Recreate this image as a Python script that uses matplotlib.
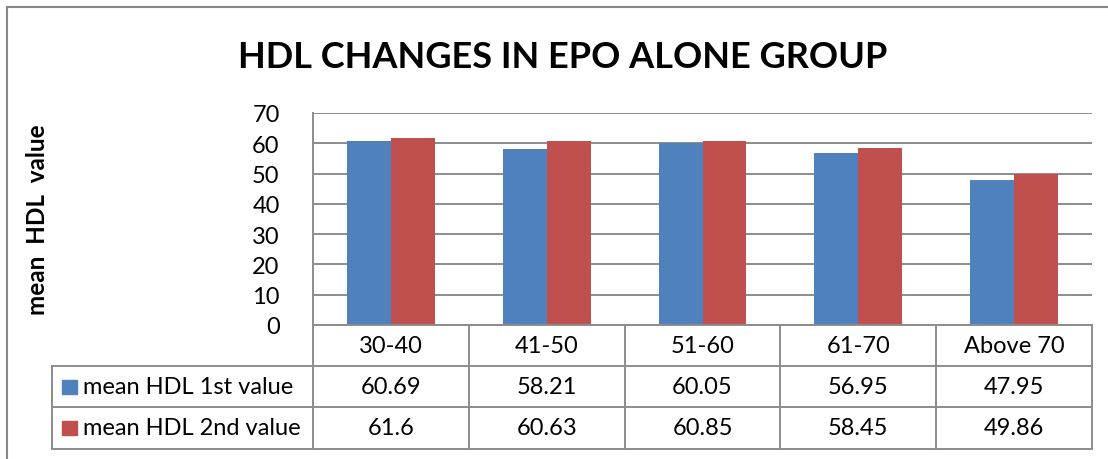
import matplotlib
matplotlib.use("Agg")
import matplotlib.pyplot as plt
import numpy as np
from matplotlib.lines import Line2D
from matplotlib.patches import Rectangle

plt.rcParams['font.family'] = ['Lato', 'DejaVu Sans']

# Data
categories = ["30-40", "41-50", "51-60", "61-70", "Above 70"]
first_values = [60.69, 58.21, 60.05, 56.95, 47.95]
second_values = [61.6, 60.63, 60.85, 58.45, 49.86]
series_names = ["mean HDL 1st value", "mean HDL 2nd value"]
first_labels = ["60.69", "58.21", "60.05", "56.95", "47.95"]
second_labels = ["61.6", "60.63", "60.85", "58.45", "49.86"]

blue = "#4F81BD"
red = "#C0504D"
grid_grey = "#8C8C8C"
fs = 17

W, H = 1108, 460
fig = plt.figure(figsize=(W / 100, H / 100), dpi=100)

def fx(px):
    return px / W

def fy(py):
    return 1 - py / H

# plot area in pixels
left, right, top, bottom = 313, 1092, 114, 326
ax = fig.add_axes([fx(left), fy(bottom), fx(right - left), (bottom - top) / H])

x = np.arange(len(categories))
bw = 0.282
ax.bar(x - bw / 2, first_values, bw, color=blue, zorder=3)
ax.bar(x + bw / 2, second_values, bw, color=red, zorder=3)

ax.set_xlim(-0.5, len(categories) - 0.5)
ax.set_ylim(0, 70)
ax.set_yticks(range(0, 71, 10))
ax.tick_params(axis='y', length=0, labelsize=fs, pad=24)
ax.tick_params(axis='x', length=0, labelbottom=False)
ax.yaxis.grid(True, color=grid_grey, linewidth=1.4)
for s in ["top", "right", "bottom"]:
    ax.spines[s].set_visible(False)
ax.spines["left"].set_color(grid_grey)
ax.spines["left"].set_linewidth(1.4)

# data table below the plot
row_y = [326, 367, 408, 450]
legend_left = 52
lw = 1.4
fig.add_artist(Line2D([fx(left), fx(right)], [fy(row_y[0])] * 2, color=grid_grey, lw=lw))
for yy in row_y[1:]:
    fig.add_artist(Line2D([fx(legend_left), fx(right)], [fy(yy)] * 2, color=grid_grey, lw=lw))
fig.add_artist(Line2D([fx(legend_left)] * 2, [fy(row_y[1]), fy(row_y[3])], color=grid_grey, lw=lw))

col_w = (right - left) / len(categories)
for i in range(len(categories) + 1):
    xx = left + i * col_w
    fig.add_artist(Line2D([fx(xx)] * 2, [fy(row_y[0]), fy(row_y[3])], color=grid_grey, lw=lw))

for i, cat in enumerate(categories):
    cx = fx(left + (i + 0.5) * col_w)
    fig.text(cx, fy(347), cat, ha='center', va='center', fontsize=fs)
    fig.text(cx, fy(388), first_labels[i], ha='center', va='center', fontsize=fs)
    fig.text(cx, fy(429), second_labels[i], ha='center', va='center', fontsize=fs)

for name, col, yc in [(series_names[0], blue, 388), (series_names[1], red, 429)]:
    fig.add_artist(Rectangle((fx(62), fy(yc + 7)), fx(15), 14 / H, color=col))
    fig.text(fx(83), fy(yc), name, ha='left', va='center', fontsize=fs)

# title and axis label
fig.text(fx(563), fy(57), "HDL CHANGES IN EPO ALONE GROUP", ha='center', va='center',
         fontsize=26, fontweight='bold')
fig.text(fx(38), fy(220), "mean  HDL  value", ha='center', va='center', rotation=90,
         fontsize=17.5, fontweight='bold')

# chart area border (cropped at right and bottom)
fig.add_artist(Line2D([fx(7), fx(7)], [fy(8), 0], color="#888888", lw=1.5))
fig.add_artist(Line2D([fx(7), 1], [fy(8), fy(8)], color="#888888", lw=1.5))

fig.savefig("out.png", dpi=100, facecolor="white")
